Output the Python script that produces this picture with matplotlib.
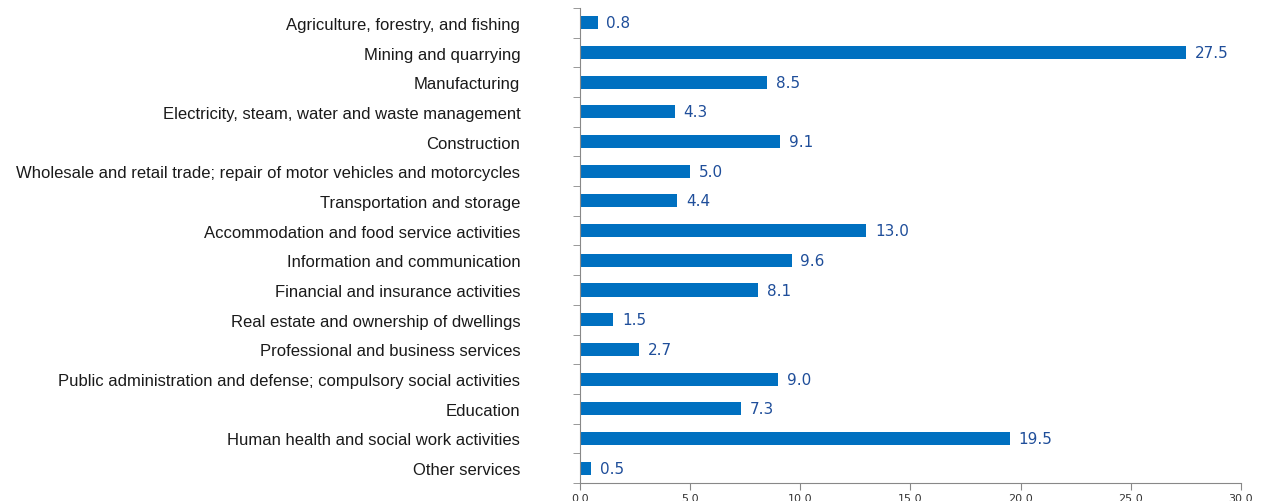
import matplotlib.pyplot as plt
import numpy as np

categories = [
    "Agriculture, forestry, and fishing",
    "Mining and quarrying",
    "Manufacturing",
    "Electricity, steam, water and waste management",
    "Construction",
    "Wholesale and retail trade; repair of motor vehicles and motorcycles",
    "Transportation and storage",
    "Accommodation and food service activities",
    "Information and communication",
    "Financial and insurance activities",
    "Real estate and ownership of dwellings",
    "Professional and business services",
    "Public administration and defense; compulsory social activities",
    "Education",
    "Human health and social work activities",
    "Other services",
]
values = [0.8, 27.5, 8.5, 4.3, 9.1, 5.0, 4.4, 13.0, 9.6, 8.1, 1.5, 2.7, 9.0, 7.3, 19.5, 0.5]
x_ticks = [0, 5, 10, 15, 20, 25, 30]

fig = plt.figure(figsize=(12.65, 5.02), dpi=100)
ax = fig.add_axes([0.4585, 0.036, 0.5225, 0.946])

y = np.arange(len(categories))
ax.barh(y, values, height=0.44, color="#0070C0")
for yi, v in zip(y, values):
    ax.text(v + 0.4, yi, f"{v:.1f}", va="center", ha="left",
            fontsize=11, color="#1F4E9A", family="DejaVu Sans")

ax.set_ylim(len(categories) - 0.5, -0.5)
ax.set_xlim(0, 30)
ax.set_yticks(y)
ax.set_yticklabels(categories, fontsize=12, family="Liberation Sans", color="#1a1a1a")
ax.tick_params(axis="y", which="major", length=0, pad=43)
ax.set_yticks(np.arange(-0.5, len(categories) + 0.5, 1), minor=True)
ax.tick_params(axis="y", which="minor", length=5, color="#888888", direction="out")

ax.set_xticks(x_ticks)
ax.set_xticklabels([f"{t:.1f}" for t in x_ticks], fontsize=8, color="#333333")
ax.tick_params(axis="x", length=5, color="#888888", pad=2)

for s in ["top", "right"]:
    ax.spines[s].set_visible(False)
for s in ["left", "bottom"]:
    ax.spines[s].set_color("#888888")

fig.savefig("out.png", dpi=100)
